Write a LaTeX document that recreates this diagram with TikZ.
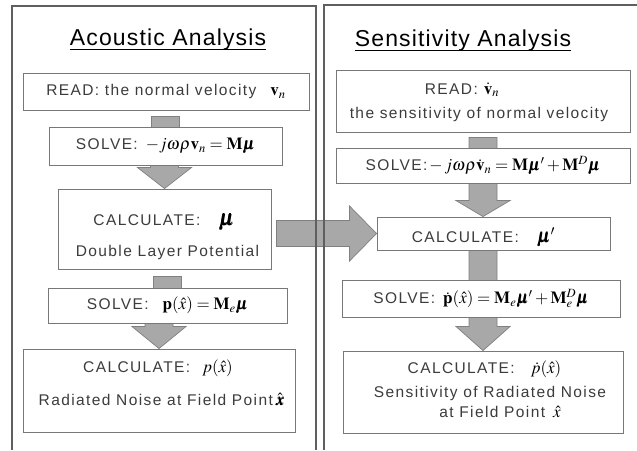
\documentclass[tikz,border=0pt]{standalone}
\usepackage{amsmath}
\usepackage{mathptmx}
\usepackage{bm}
\usepackage[no-math]{fontspec}
\newfontfamily\bodyf{Liberation Sans}[LetterSpace=9]
\newfontfamily\titlef{Liberation Sans}[LetterSpace=5]
\usetikzlibrary{calc}
\pgfdeclarelayer{back}
\pgfdeclarelayer{arrows}
\pgfsetlayers{back,arrows,main}
\definecolor{txt}{RGB}{60,60,60}
\definecolor{boxline}{RGB}{120,120,120}
\definecolor{panelc}{RGB}{95,95,95}
\definecolor{arrfill}{RGB}{168,168,168}
\definecolor{arrline}{RGB}{128,128,128}
\newcommand\mth[1]{{\color{black}\fontsize{17}{17}\selectfont$#1$}}
\newcommand\bfs{\bodyf\fontsize{15.5}{18}\selectfont}
\newcommand\blkdown[3]{%
  \coordinate (bT) at (#2);
  \coordinate (bS0) at (#1);
  \coordinate (bS) at (bT |- bS0);
  \draw[blk] ($(bS)+(-14,0)$) -- ($(bT)+(-14,-#3)$) -- ($(bT)+(-27,-#3)$) -- (bT)
    -- ($(bT)+(27,-#3)$) -- ($(bT)+(14,-#3)$) -- ($(bS)+(14,0)$) -- cycle;}
\newcommand\blkright[3]{%
  \coordinate (bT) at (#2);
  \coordinate (bS0) at (#1);
  \coordinate (bS) at (bS0 |- bT);
  \draw[blk] ($(bS)+(0,-13)$) -- ($(bT)+(-#3,-13)$) -- ($(bT)+(-#3,-27.5)$) -- (bT)
    -- ($(bT)+(-#3,27.5)$) -- ($(bT)+(-#3,13)$) -- ($(bS)+(0,13)$) -- cycle;}
\begin{document}
\begin{tikzpicture}[x=1pt,y=-1pt,
  box/.style={draw=boxline, line width=0.9pt, fill=white, inner sep=0pt, align=center, text=txt, font=\bfs},
  lbl/.style={inner sep=0pt, text=txt, font=\bfs, anchor=base},
  blk/.style={fill=arrfill, draw=arrline, line width=0.7pt},
  ttl/.style={inner sep=0pt, text=black, font=\titlef\fontsize{23}{26}\selectfont, anchor=base},
  uline/.style={line width=1pt, black},
  panel/.style={draw=panelc, line width=1.4pt}]
\useasboundingbox (0,0) rectangle (637,450);
\begin{pgfonlayer}{back}
\fill[white] (0,0) rectangle (637,450);
\end{pgfonlayer}

% titles
\node[ttl] (atitle) at (168,45) {Acoustic Analysis};
\draw[uline] ($(atitle.base west)+(0,4)$) -- ($(atitle.base east)+(0,4)$);
\node[ttl] (btitle) at (463,46) {Sensitivity Analysis};
\draw[uline] ($(btitle.base west)+(0,4)$) -- ($(btitle.base east)+(0,4)$);

% left column
\node[box, minimum width=286pt, minimum height=37pt] (aread) at (166,91.5)
  {READ: the normal velocity\hspace{14pt}\mth{\mathbf{v}_{n}}};
\node[box, minimum width=233pt, minimum height=38pt] (asolve) at (165.5,146)
  {SOLVE:\hspace{8pt}\mth{-j\omega\rho\mathbf{v}_{n}=\mathbf{M}\bm{\mu}}};
\node[box, minimum width=213pt, minimum height=80pt] (acalc) at (164.5,229) {};
\node[lbl] (acalca) at (164,225) {CALCULATE:\hspace{18pt}{\color{black}\fontsize{22}{22}\selectfont$\bm{\mu}$}};
\node[lbl] (acalcb) at (167.5,256) {Double Layer Potential};
\node[box, minimum width=239pt, minimum height=35pt] (asolvetwo) at (167.5,305.5)
  {SOLVE:\hspace{14pt}\mth{\mathbf{p}(\hat{x})=\mathbf{M}_{e}\bm{\mu}}};
\node[box, minimum width=272pt, minimum height=83pt] (acalctwo) at (159,390.5) {};
\node[lbl] (acalctwoa) at (158,372) {CALCULATE:\hspace{12pt}\mth{p(\hat{x})}};
\node[lbl] (acalctwob) at (161.5,405) {Radiated Noise at Field Point\hspace{3pt}\mth{\hat{\bm{x}}}};

% right column
\node[box, minimum width=294pt, minimum height=62pt] (bread) at (483,101) {};
\node[lbl] (breada) at (462,94) {READ:\hspace{6pt}\mth{\dot{\mathbf{v}}_{n}}};
\node[lbl] (breadb) at (479,118) {the sensitivity of normal velocity};
\node[box, minimum width=294pt, minimum height=35pt] (bsolve) at (483,165.5)
  {SOLVE:\hspace{2pt}\mth{-\,j\omega\rho\dot{\mathbf{v}}_{n}=\mathbf{M}\bm{\mu}'+\mathbf{M}^{D}\bm{\mu}}};
\node[box, minimum width=233pt, minimum height=33pt] (bcalc) at (493.5,233.5) {};
\node[lbl] (bcalca) at (483.5,242) {CALCULATE:\hspace{18pt}{\color{black}\fontsize{19}{19}\selectfont$\bm{\mu}'$}};
\node[box, minimum width=278pt, minimum height=37pt] (bsolvetwo) at (481,298.5)
  {SOLVE:\hspace{8pt}\mth{\dot{\mathbf{p}}(\hat{x})=\mathbf{M}_{e}\bm{\mu}'+\mathbf{M}_{e}^{D}\bm{\mu}}};
\node[box, minimum width=280pt, minimum height=82pt] (bcalctwo) at (483,392) {};
\node[lbl] (bcalctwoa) at (484.5,373) {CALCULATE:\hspace{16pt}\mth{\dot{p}(\hat{x})}};
\node[lbl] (bcalctwob) at (490,397) {Sensitivity of Radiated Noise};
\node[lbl] (bcalctwoc) at (500,417) {at Field Point\hspace{8pt}\mth{\hat{x}}};

% block arrows (behind boxes)
\begin{pgfonlayer}{arrows}
\blkdown{$(aread.south)+(0,6)$}{$(asolve.north)+(0,20)$}{12}
\blkdown{$(asolve.south)+(0,-10)$}{acalc.north}{21}
\blkdown{$(acalc.south)+(0,7)$}{$(asolvetwo.north)+(0,20)$}{12}
\blkdown{$(asolvetwo.south)+(0,-10)$}{acalctwo.north}{22}
\blkdown{$(bread.south)+(0,5)$}{$(bsolve.north)+(0,20)$}{12}
\blkdown{$(bsolve.south)+(0,-5)$}{bcalc.north -| bsolve.south}{16}
\blkdown{$(bcalc.south)+(0,-5)$}{$(bsolvetwo.north -| bsolve.south)+(0,20)$}{12}
\blkdown{$(bsolvetwo.south)+(0,-5)$}{bcalctwo.north -| bsolve.south}{24}
\blkright{$(acalc.east)+(5,0)$}{bcalc.west}{27}
\end{pgfonlayer}

% panels
\draw[panel] (12,450) -- (12,6) -- (316,6) -- (316,450);
\draw[panel] (324,450) -- (324,5) -- (637,5);
\end{tikzpicture}
\end{document}
